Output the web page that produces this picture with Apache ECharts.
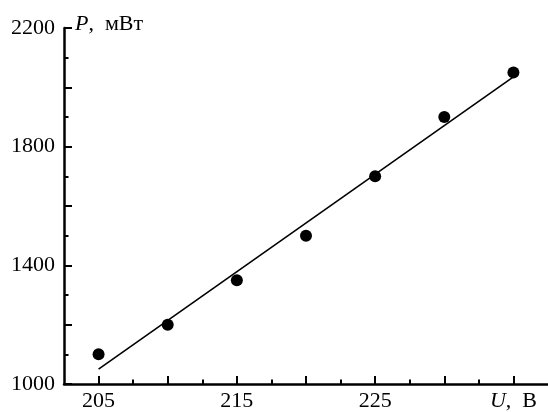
<!DOCTYPE html>
<html>
<head>
<meta charset="utf-8">
<script src="https://cdn.jsdelivr.net/npm/echarts@6/dist/echarts.min.js"></script>
<style type="text/css">
html,body{margin:0;padding:0;background:#fff;}
#chart{width:548px;height:412px;}
</style>
</head>
<body>
<div id="chart"></div>
<script type="text/javascript">
// measured points
var voltage = [205, 210, 215, 220, 225, 230, 235];
var power = [1100, 1200, 1350, 1500, 1700, 1900, 2050];
// fitted line
var fitU = [205, 235];
var fitP = [1050, 2035];

var xMajorTicks = [205, 210, 215, 220, 225, 230, 235];
var xMinorTicks = [207.5, 212.5, 217.5, 222.5, 227.5, 232.5];
var xLabels = [205, 215, 225, 235];
var yMajorTicks = [1000, 1200, 1400, 1600, 1800, 2000, 2200];
var yMinorTicks = [1100, 1300, 1500, 1700, 1900, 2100];
var yLabels = [1000, 1400, 1800, 2200];

var font = 'Liberation Serif';
var ink = '#000';

var chart = echarts.init(document.getElementById('chart'));

var option = {
    animation: false,
    grid: {
        left: 64,
        right: 0,
        top: 28,
        bottom: 25
    },
    xAxis: [
        {
            type: 'value',
            min: 202.5,
            max: 237.5,
            axisLine: {lineStyle: {color: ink, width: 2.5}},
            axisTick: {
                inside: true,
                length: 8,
                customValues: xMajorTicks,
                lineStyle: {color: ink, width: 2}
            },
            axisLabel: {
                customValues: xLabels,
                margin: 6,
                color: ink,
                fontFamily: font,
                fontSize: 22,
                formatter: function (v) {
                    if (v === 235) return '{i|U},  В';
                    return String(v);
                },
                rich: {
                    i: {fontStyle: 'italic', fontFamily: font, fontSize: 22, color: ink}
                }
            },
            splitLine: {show: false}
        },
        {
            type: 'value',
            position: 'bottom',
            min: 202.5,
            max: 237.5,
            axisLine: {show: false},
            axisTick: {
                inside: true,
                length: 4.5,
                customValues: xMinorTicks,
                lineStyle: {color: ink, width: 2}
            },
            axisLabel: {show: false},
            splitLine: {show: false}
        }
    ],
    yAxis: [
        {
            type: 'value',
            min: 1000,
            max: 2200,
            name: '{i|P},  мВт',
            nameLocation: 'end',
            nameGap: 4,
            nameTextStyle: {
                align: 'left',
                verticalAlign: 'middle',
                padding: [0, 0, 0, 11],
                color: ink,
                fontFamily: font,
                fontSize: 22,
                rich: {
                    i: {fontStyle: 'italic', fontFamily: font, fontSize: 22, color: ink}
                }
            },
            axisLine: {lineStyle: {color: ink, width: 2.5}},
            axisTick: {
                inside: true,
                length: 8,
                customValues: yMajorTicks,
                lineStyle: {color: ink, width: 2}
            },
            axisLabel: {
                customValues: yLabels,
                margin: 9,
                color: ink,
                fontFamily: font,
                fontSize: 22,
                formatter: function (v) { return String(v); }
            },
            splitLine: {show: false}
        },
        {
            type: 'value',
            position: 'left',
            min: 1000,
            max: 2200,
            axisLine: {show: false},
            axisTick: {
                inside: true,
                length: 4.5,
                customValues: yMinorTicks,
                lineStyle: {color: ink, width: 2}
            },
            axisLabel: {show: false},
            splitLine: {show: false}
        }
    ],
    series: [
        {
            type: 'line',
            data: fitU.map(function (u, i) { return [u, fitP[i]]; }),
            symbol: 'none',
            lineStyle: {color: ink, width: 1.6},
            z: 2
        },
        {
            type: 'scatter',
            data: voltage.map(function (u, i) { return [u, power[i]]; }),
            symbol: 'circle',
            symbolSize: 12,
            itemStyle: {color: ink, opacity: 1},
            z: 3
        }
    ]
};
chart.setOption(option);
</script>
</body>
</html>
